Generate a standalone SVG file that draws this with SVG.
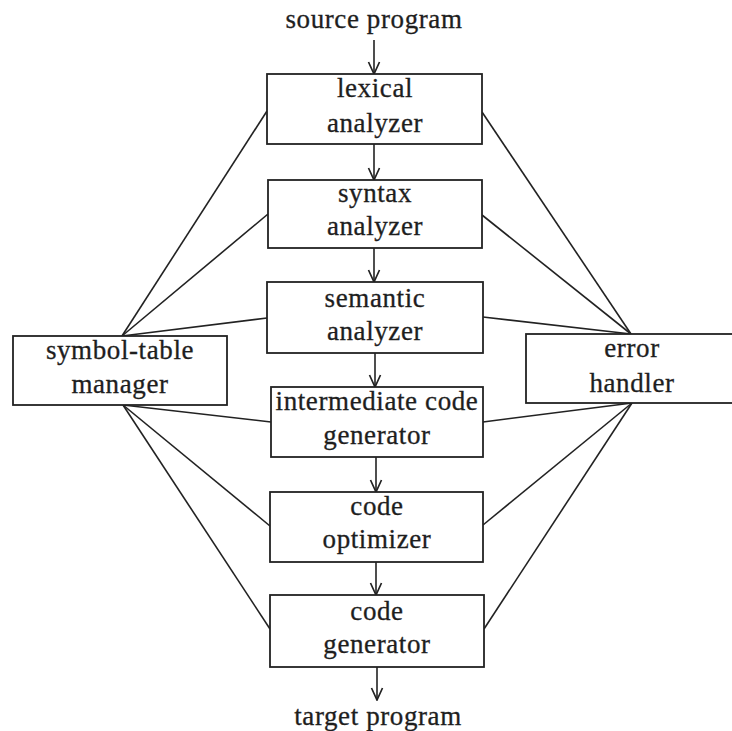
<svg xmlns="http://www.w3.org/2000/svg" width="732" height="731" viewBox="0 0 732 731">
<style>
.box{fill:#fff;stroke:#222;stroke-width:1.8}
.ln{stroke:#222;stroke-width:1.6;fill:none}
.t{font-family:"Liberation Serif","Times New Roman",serif;font-size:27px;letter-spacing:0.6px;fill:#1e1e1e;stroke:#1e1e1e;stroke-width:0.3;text-anchor:middle}
</style>
<defs>
<marker id="ah" viewBox="0 0 14 14" refX="13" refY="7" markerWidth="14" markerHeight="14" markerUnits="userSpaceOnUse" orient="auto">
<path d="M1,1.5 L13,7 L1,12.5" fill="none" stroke="#222" stroke-width="1.7"/>
</marker>
</defs>
<rect width="732" height="731" fill="#fff"/>
<g id="connectors">
<line class="ln" x1="374" y1="40" x2="374" y2="74" marker-end="url(#ah)"/>
<line class="ln" x1="374" y1="144" x2="374" y2="180" marker-end="url(#ah)"/>
<line class="ln" x1="374" y1="248" x2="374" y2="282" marker-end="url(#ah)"/>
<line class="ln" x1="375" y1="353" x2="375" y2="387" marker-end="url(#ah)"/>
<line class="ln" x1="376" y1="457" x2="376" y2="492" marker-end="url(#ah)"/>
<line class="ln" x1="376" y1="562" x2="376" y2="595" marker-end="url(#ah)"/>
<line class="ln" x1="377" y1="667" x2="377" y2="700" marker-end="url(#ah)"/>
<line class="ln" x1="122" y1="336" x2="267" y2="111"/>
<line class="ln" x1="122" y1="336" x2="268" y2="214"/>
<line class="ln" x1="122" y1="336" x2="267" y2="318"/>
<line class="ln" x1="123" y1="405" x2="271" y2="422"/>
<line class="ln" x1="123" y1="405" x2="270" y2="526"/>
<line class="ln" x1="123" y1="405" x2="270" y2="629"/>
<line class="ln" x1="631" y1="334" x2="482" y2="112"/>
<line class="ln" x1="631" y1="334" x2="482" y2="215"/>
<line class="ln" x1="631" y1="334" x2="483" y2="317"/>
<line class="ln" x1="632" y1="403" x2="483" y2="422"/>
<line class="ln" x1="632" y1="403" x2="483" y2="525"/>
<line class="ln" x1="632" y1="403" x2="484" y2="629"/>
</g>
<text class="t" x="374" y="28">source program</text>
<text class="t" x="378" y="725">target program</text>
<g id="lexical">
<rect class="box" x="267" y="74" width="215" height="70"/>
<text class="t" x="375" y="97">lexical</text>
<text class="t" x="375" y="132">analyzer</text>
</g>
<g id="syntax">
<rect class="box" x="268" y="180" width="214" height="68"/>
<text class="t" x="375" y="202">syntax</text>
<text class="t" x="375" y="235">analyzer</text>
</g>
<g id="semantic">
<rect class="box" x="267" y="282" width="216" height="71"/>
<text class="t" x="375" y="307">semantic</text>
<text class="t" x="375" y="340">analyzer</text>
</g>
<g id="intermediate">
<rect class="box" x="271" y="387" width="212" height="70"/>
<text class="t" x="377" y="410">intermediate code</text>
<text class="t" x="377" y="444">generator</text>
</g>
<g id="optimizer">
<rect class="box" x="270" y="492" width="213" height="70"/>
<text class="t" x="377" y="515">code</text>
<text class="t" x="377" y="548">optimizer</text>
</g>
<g id="codegen">
<rect class="box" x="270" y="595" width="214" height="72"/>
<text class="t" x="377" y="620">code</text>
<text class="t" x="377" y="653">generator</text>
</g>
<g id="symboltable">
<rect class="box" x="13" y="336" width="214" height="69"/>
<text class="t" x="120" y="359">symbol-table</text>
<text class="t" x="120" y="393">manager</text>
</g>
<g id="errorhandler">
<rect class="box" x="526" y="334" width="214" height="69"/>
<text class="t" x="632" y="357">error</text>
<text class="t" x="632" y="392">handler</text>
</g>
</svg>
